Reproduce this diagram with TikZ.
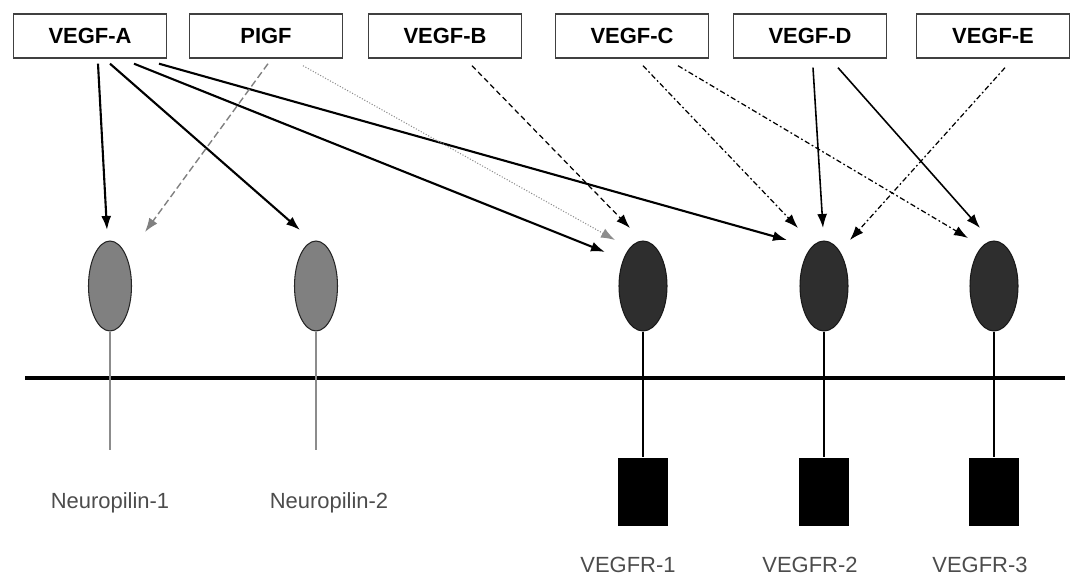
\documentclass[tikz,border=0pt]{standalone}
\usepackage{fontspec}
\setmainfont{Liberation Sans}
\usetikzlibrary{shapes.geometric,arrows.meta}

\tikzset{
  ligand/.style={draw=black!75, line width=0.8pt, minimum width=3.06cm, minimum height=0.88cm, inner sep=0pt, font=\fontsize{12.5}{14}\selectfont\bfseries},
  nrp/.style={ellipse, draw=black!85, fill=black!50, line width=0.6pt, minimum width=0.86cm, minimum height=1.8cm, inner sep=0pt},
  vegfr/.style={ellipse, draw=black!90, fill=black!82, line width=0.6pt, minimum width=0.96cm, minimum height=1.8cm, inner sep=0pt},
  kinase/.style={fill=black, minimum width=1cm, minimum height=1.38cm, inner sep=0pt},
  rlabel/.style={text=black!70, inner sep=1pt, font=\fontsize{12.5}{14}\selectfont},
  bind/.style={-{Latex[length=2.8mm,width=2mm]}},
  strong/.style={bind, line width=1.2pt},
  plain/.style={bind, line width=0.9pt},
  dashdot/.style={bind, line width=0.7pt, dash pattern=on 3pt off 1.5pt on 1pt off 1.5pt},
}

\begin{document}
\begin{tikzpicture}[x=0.02cm, y=-0.02cm]
\useasboundingbox (0,0) rectangle (1075,581);

% ligands
\node[ligand] (vegfa) at (90,36) {VEGF-A};
\node[ligand] (pigf) at (266,36) {PIGF};
\node[ligand] (vegfb) at (445,36) {VEGF-B};
\node[ligand] (vegfc) at (632,36) {VEGF-C};
\node[ligand] (vegfd) at (810,36) {VEGF-D};
\node[ligand] (vegfe) at (993,36) {VEGF-E};

% membrane
\coordinate (mem-l) at (25,378);
\coordinate (mem-r) at (1065,378);
\draw[line width=2.2pt] (mem-l) -- (mem-r);

% receptors
\node[nrp] (np1) at (110,286) {};
\node[nrp] (np2) at (316,286) {};
\node[vegfr] (r1) at (643,286) {};
\node[vegfr] (r2) at (824,286) {};
\node[vegfr] (r3) at (994,286) {};

\coordinate (np1-end) at (110,450);
\coordinate (np2-end) at (316,450);
\draw[black!45, line width=1pt] (np1.south) -- (np1-end);
\draw[black!45, line width=1pt] (np2.south) -- (np2-end);

\node[kinase] (k1) at (643,492) {};
\node[kinase] (k2) at (824,492) {};
\node[kinase] (k3) at (994,492) {};
\draw[line width=1.2pt] (r1.south) -- (k1.north);
\draw[line width=1.2pt] (r2.south) -- (k2.north);
\draw[line width=1.2pt] (r3.south) -- (k3.north);

\node[rlabel] (np1-lab) at (110,503) {Neuropilin-1};
\node[rlabel] (np2-lab) at (329,503) {Neuropilin-2};
\node[rlabel] (r1-lab) at (628,565) {VEGFR-1};
\node[rlabel] (r2-lab) at (810,565) {VEGFR-2};
\node[rlabel] (r3-lab) at (980,565) {VEGFR-3};

% binding sites
\coordinate (np1-a) at (107,230);
\coordinate (np1-p) at (145,232);
\coordinate (np2-a) at (300,230);
\coordinate (r1-a) at (605,252);
\coordinate (r1-p) at (615,240);
\coordinate (r1-b) at (630,228);
\coordinate (r2-a) at (787,240);
\coordinate (r2-c) at (798,228);
\coordinate (r2-d) at (823,228);
\coordinate (r2-e) at (850,240);
\coordinate (r3-c) at (968,238);
\coordinate (r3-d) at (980,228);

\draw[strong] ([shift={(8,5)}]vegfa.south) -- (np1-a);
\draw[strong] ([shift={(20,5)}]vegfa.south) -- (np2-a);
\draw[strong] ([shift={(44,5)}]vegfa.south) -- (r1-a);
\draw[strong] ([shift={(69,5)}]vegfa.south) -- (r2-a);
\draw[bind, black!50, line width=0.8pt, dash pattern=on 4pt off 2pt] ([shift={(2,5)}]pigf.south) -- (np1-p);
\draw[bind, black!45, line width=0.6pt, densely dotted] ([shift={(37,7)}]pigf.south) -- (r1-p);
\draw[bind, line width=0.7pt, densely dashed] ([shift={(27,7)}]vegfb.south) -- (r1-b);
\draw[dashdot] ([shift={(11,7)}]vegfc.south) -- (r2-c);
\draw[dashdot] ([shift={(46,7)}]vegfc.south) -- (r3-c);
\draw[plain] ([shift={(3,9)}]vegfd.south) -- (r2-d);
\draw[plain] ([shift={(28,9)}]vegfd.south) -- (r3-d);
\draw[dashdot] ([shift={(12,9)}]vegfe.south) -- (r2-e);
\end{tikzpicture}
\end{document}
